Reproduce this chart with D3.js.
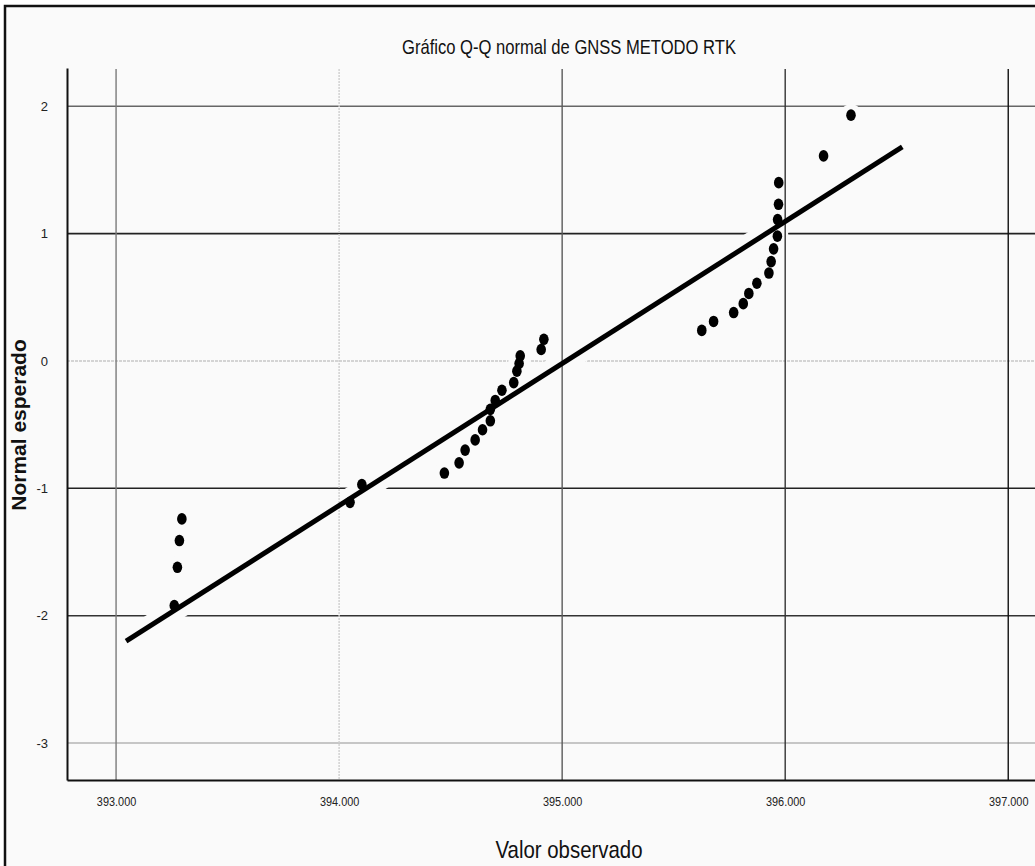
<!DOCTYPE html>
<html>
<head>
  <meta charset="utf-8">
  <script src="https://d3js.org/d3.v7.min.js"></script>
  <style>
    body { margin: 0; background: #fff; }
    .tick-label { font-family: "Liberation Sans", Arial, sans-serif; font-size: 13px; fill: #222; }
  </style>
</head>
<body>
  <div id="chart"></div>
  <script>
    var observed = [393.261, 393.275, 393.284, 393.295, 394.049, 394.102,
      394.472, 394.538, 394.565, 394.610, 394.643, 394.678, 394.678, 394.700,
      394.730, 394.783, 394.797, 394.807, 394.812, 394.906, 394.918,
      395.626, 395.679, 395.769, 395.812, 395.837, 395.873, 395.927, 395.937,
      395.948, 395.965, 395.966, 395.970, 395.971, 396.172, 396.295];
    var expected = [-1.92, -1.62, -1.41, -1.24, -1.11, -0.97,
      -0.88, -0.80, -0.70, -0.62, -0.54, -0.47, -0.38, -0.31,
      -0.23, -0.17, -0.08, -0.02, 0.04, 0.09, 0.17,
      0.24, 0.31, 0.38, 0.45, 0.53, 0.61, 0.69, 0.78,
      0.88, 0.98, 1.11, 1.23, 1.40, 1.61, 1.93];
    // reference line end points
    var lineX = [393.045, 396.525];
    var lineY = [-2.20, 1.68];

    var xTicks = [393, 394, 395, 396, 397];
    var yTicks = [-3, -2, -1, 0, 1, 2];
    // grid colours as they appear in the picture
    var xGridColor = ["#7a7a7a", "#cfcfcf", "#5a5a5a", "#333", "#111"];
    var yGridColor = ["#b5b5b5", "#333", "#222", "#c8c8c8", "#222", "#666"];

    var W = 1035, H = 866;
    var plotLeft = 67, plotTop = 69, plotBottom = 780;

    var svg = d3.select("#chart").append("svg")
      .attr("width", W).attr("height", H);

    // outer frame
    svg.append("rect")
      .attr("x", 5).attr("y", 6)
      .attr("width", W + 20).attr("height", H + 20)
      .attr("fill", "#fafafa")
      .attr("stroke", "#111").attr("stroke-width", 2.5);

    var x = d3.scaleLinear().domain([392.78, 397.12]).range([plotLeft, W]);
    var y = d3.scaleLinear().domain([-3.29, 2.3]).range([plotBottom, 68]);

    var pts = observed.map(function(v, i) { return [v, expected[i]]; });
    var fit = lineX.map(function(v, i) { return [v, lineY[i]]; });
    var line = d3.line().x(function(d) { return x(d[0]); }).y(function(d) { return y(d[1]); });

    // horizontal grid
    svg.append("g").selectAll("line")
      .data(yTicks).enter().append("line")
      .attr("x1", plotLeft).attr("x2", W)
      .attr("y1", function(d) { return y(d); }).attr("y2", function(d) { return y(d); })
      .attr("stroke", function(d, i) { return yGridColor[i]; })
      .attr("stroke-width", 1.6)
      .attr("stroke-dasharray", function(d) { return d === 0 ? "3,1" : null; });

    // halo that cuts the horizontal grid near the marks
    svg.append("path").datum(fit)
      .attr("d", line).attr("fill", "none")
      .attr("stroke", "#fafafa").attr("stroke-width", 22);
    svg.append("g").selectAll("circle")
      .data(pts).enter().append("circle")
      .attr("cx", function(d) { return x(d[0]); })
      .attr("cy", function(d) { return y(d[1]); })
      .attr("r", 11).attr("fill", "#fafafa");

    // vertical grid
    svg.append("g").selectAll("line")
      .data(xTicks).enter().append("line")
      .attr("y1", plotTop).attr("y2", plotBottom)
      .attr("x1", function(d) { return x(d); }).attr("x2", function(d) { return x(d); })
      .attr("stroke", function(d, i) { return xGridColor[i]; })
      .attr("stroke-width", 1.4)
      .attr("stroke-dasharray", function(d) { return d === 394 ? "2,1" : null; });

    // axes
    var xAxis = svg.append("g")
      .attr("transform", "translate(0," + plotBottom + ")")
      .call(d3.axisBottom(x).tickValues(xTicks).tickSize(0).tickPadding(17)
        .tickFormat(d3.format(".3f")));
    xAxis.select(".domain").attr("stroke", "#111").attr("stroke-width", 2);
    xAxis.selectAll("text").attr("class", "tick-label")
      .attr("transform", "scale(0.84,1)");

    var yAxis = svg.append("g")
      .attr("transform", "translate(" + plotLeft + ",0)")
      .call(d3.axisLeft(y).tickValues(yTicks).tickSize(0).tickPadding(19)
        .tickFormat(function(d) { return String(d); }));
    yAxis.select(".domain").attr("stroke", "#111").attr("stroke-width", 2);
    yAxis.selectAll("text").attr("class", "tick-label");

    // reference line
    svg.append("path").datum(fit)
      .attr("d", line).attr("fill", "none")
      .attr("stroke", "#000").attr("stroke-width", 5);

    // points
    svg.append("g").selectAll("ellipse")
      .data(pts).enter().append("ellipse")
      .attr("cx", function(d) { return x(d[0]); })
      .attr("cy", function(d) { return y(d[1]); })
      .attr("rx", 4.8).attr("ry", 5.8)
      .attr("fill", "#000");

    // titles (condensed look)
    svg.append("text")
      .attr("transform", "translate(569,54) scale(0.83,1)")
      .attr("text-anchor", "middle")
      .style("font-family", "'Liberation Sans', Arial, sans-serif")
      .style("font-size", "20px").style("fill", "#111")
      .text("Gráfico Q-Q normal de GNSS METODO RTK");

    svg.append("text")
      .attr("transform", "translate(569,858) scale(0.85,1)")
      .attr("text-anchor", "middle")
      .style("font-family", "'Liberation Sans', Arial, sans-serif")
      .style("font-size", "24px").style("fill", "#111")
      .text("Valor observado");

    svg.append("text")
      .attr("transform", "translate(26,425) rotate(-90)")
      .attr("text-anchor", "middle")
      .style("font-family", "'Liberation Sans', Arial, sans-serif")
      .style("font-size", "21px").style("font-weight", "bold").style("fill", "#111")
      .text("Normal esperado");
  </script>
</body>
</html>
